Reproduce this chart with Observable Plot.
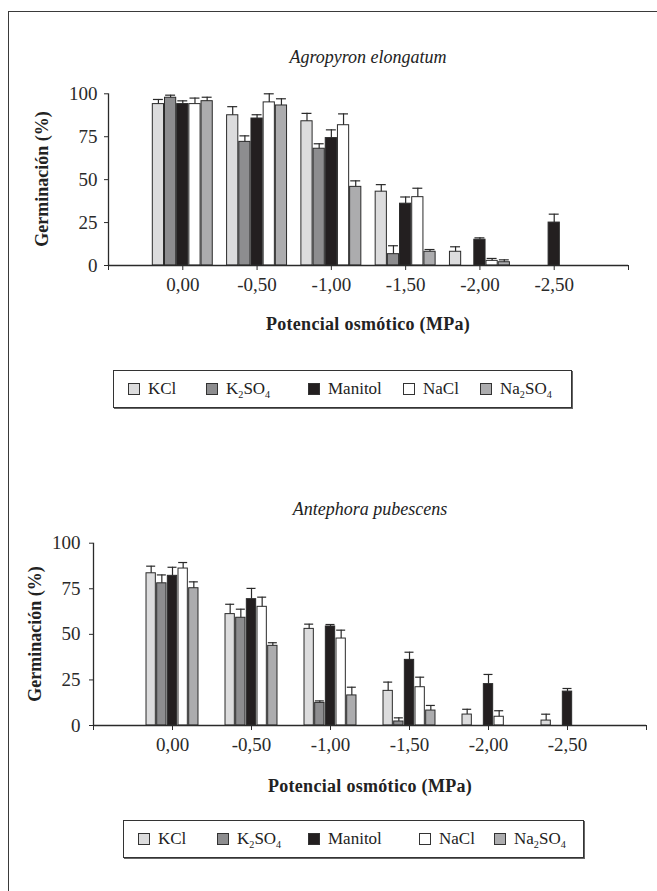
<!DOCTYPE html>
<html><head><meta charset="utf-8">
<script src="https://cdn.jsdelivr.net/npm/d3@7"></script>
<script src="https://cdn.jsdelivr.net/npm/@observablehq/plot@0.6"></script>
<style>
body{margin:0;background:#fff;}
#page{position:relative;width:657px;height:891px;overflow:hidden;background:#fff;font-family:"Liberation Serif",serif;color:#222;}
.frame{position:absolute;left:8px;top:11px;width:700px;height:900px;border-top:1.5px solid #3a3a3a;border-left:1.5px solid #3a3a3a;}
.title{position:absolute;font-style:italic;font-size:18px;transform:translate(-50%,-50%);white-space:nowrap;}
.xlabel{position:absolute;font-weight:bold;font-size:18px;transform:translate(-50%,-50%);white-space:nowrap;letter-spacing:0.3px;}
.ylabel{position:absolute;font-weight:bold;font-size:18px;transform:translate(-50%,-50%) rotate(-90deg);white-space:nowrap;}
.legend{position:absolute;border:1.5px solid #333;box-shadow:1px 1px 0 #666;font-size:17px;height:36px;}
.item{position:absolute;top:0;height:36px;display:flex;align-items:center;white-space:nowrap;}
.sw{width:12px;height:12px;border:1px solid #333;margin-right:8px;box-sizing:border-box;}
.chart{position:absolute;left:0;}
sub{font-size:0.6em;vertical-align:-0.35em;line-height:0;}
</style></head>
<body>
<div id="page">
  <div class="frame"></div>
</div>
<script>
// ---- shared categories ----
const potentials = ["0,00", "-0,50", "-1,00", "-1,50", "-2,00", "-2,50"];
const series = ["KCl", "K2SO4", "Manitol", "NaCl", "Na2SO4"];
const seriesLabels = ["KCl", "K<sub>2</sub>SO<sub>4</sub>", "Manitol", "NaCl", "Na<sub>2</sub>SO<sub>4</sub>"];
const seriesColors = ["#dcdcdd", "#8d8d8f", "#231f20", "#ffffff", "#acacae"];
const yTicks = [0, 25, 50, 75, 100];

// ---- Agropyron elongatum (germination %, per potential) ----
const agroKCl     = [94, 87.5, 84, 43, 8, 0];
const agroK2SO4   = [97.7, 72, 68, 6.6, 0, 0];
const agroManitol = [94, 85.6, 74.2, 36, 15, 25];
const agroNaCl    = [94, 95, 81.7, 39.8, 2.7, 0];
const agroNa2SO4  = [95.7, 93.2, 45.8, 8, 1.9, 0];
const agroKClErr     = [2.7, 5, 4.6, 4.1, 2.9, 0];
const agroK2SO4Err   = [1.5, 3.5, 2.9, 4.9, 0, 0];
const agroManitolErr = [1.9, 2.2, 4.8, 3.9, 1.1, 4.9];
const agroNaClErr    = [3.5, 5, 6.6, 5.2, 1.4, 0];
const agroNa2SO4Err  = [2.3, 3.9, 3.5, 1.3, 1.4, 0];

// ---- Antephora pubescens ----
const anteKCl     = [83.5, 61.1, 53, 19, 6, 2.7];
const anteK2SO4   = [78, 59.1, 12.4, 2.2, 0, 0];
const anteManitol = [82.1, 69.3, 54.3, 36, 22.7, 18.6];
const anteNaCl    = [86.1, 65.1, 47.7, 21, 4.8, 0];
const anteNa2SO4  = [75.3, 43.7, 16.5, 8.2, 0, 0];
const anteKClErr     = [3.9, 5.4, 2.6, 4.8, 2.9, 3.5];
const anteK2SO4Err   = [4.6, 4.7, 1.1, 2, 0, 0];
const anteManitolErr = [4.7, 5.9, 1.1, 4.2, 5.3, 1.7];
const anteNaClErr    = [3.3, 5.3, 4.6, 5.5, 3.3, 0];
const anteNa2SO4Err  = [3.5, 1.7, 4.5, 2.8, 0, 0];

function buildRows(vals, errs) {
  const rows = [];
  vals.forEach((arr, j) => arr.forEach((v, i) => rows.push({i, j, series: series[j], pot: potentials[i], v, e: errs[j][i]})));
  return rows;
}
const agroRows = buildRows([agroKCl, agroK2SO4, agroManitol, agroNaCl, agroNa2SO4],
                           [agroKClErr, agroK2SO4Err, agroManitolErr, agroNaClErr, agroNa2SO4Err]);
const anteRows = buildRows([anteKCl, anteK2SO4, anteManitol, anteNaCl, anteNa2SO4],
                           [anteKClErr, anteK2SO4Err, anteManitolErr, anteNaClErr, anteNa2SO4Err]);

const page = document.getElementById("page");
const ink = "#2a2a2a";

function chart(rows, o) {
  const pos = d => d.i + (d.j - 2) * o.step;
  const drawn = rows.filter(d => d.v > 0);
  const withErr = drawn.filter(d => d.e > 0);
  const p = Plot.plot({
    width: 657, height: o.height,
    marginLeft: o.ml, marginRight: o.mr, marginTop: o.mt, marginBottom: o.mb,
    style: {fontFamily: "Liberation Serif, serif", fontSize: "19px", color: ink, background: "transparent", overflow: "visible"},
    x: {domain: [-1, potentials.length], axis: null},
    y: {domain: [0, 100], axis: null},
    color: {domain: series, range: seriesColors},
    marks: [
      Plot.rectY(drawn, {x1: d => pos(d) - o.bw / 2, x2: d => pos(d) + o.bw / 2, y1: 0, y2: "v", fill: "series", stroke: ink, strokeWidth: 1}),
      Plot.ruleX(withErr, {x: pos, y1: "v", y2: d => d.v + d.e, stroke: ink, strokeWidth: 1.2}),
      Plot.ruleY(withErr, {y: d => d.v + d.e, x1: d => pos(d) - o.cap, x2: d => pos(d) + o.cap, stroke: ink, strokeWidth: 1.2}),
      Plot.ruleY([0], {stroke: ink, strokeWidth: 1.3}),
      Plot.ruleX([-1], {stroke: ink, strokeWidth: 1.3}),
      Plot.axisY({ticks: yTicks, tickSize: 4, tickPadding: o.ytp, label: null, stroke: ink}),
      Plot.axisX({ticks: d3.range(-1, potentials.length + 1), tickFormat: i => potentials[i] ?? "", tickSize: 5, tickPadding: 7, label: null, stroke: ink})
    ]
  });
  p.classList.add("chart");
  p.style.top = o.top + "px";
  page.appendChild(p);
}

function addText(cls, text, x, y) {
  const d = document.createElement("div");
  d.className = cls; d.textContent = text;
  d.style.left = x + "px"; d.style.top = y + "px";
  page.appendChild(d);
}

function legend(left, top, width, itemX) {
  const box = document.createElement("div");
  box.className = "legend";
  box.style.left = left + "px"; box.style.top = top + "px"; box.style.width = width + "px";
  series.forEach((s, j) => {
    const it = document.createElement("div");
    it.className = "item";
    it.style.left = (itemX[j] - left) + "px";
    it.innerHTML = `<span class="sw" style="background:${seriesColors[j]}"></span><span>${seriesLabels[j]}</span>`;
    box.appendChild(it);
  });
  page.appendChild(box);
}

// Top chart
addText("title", "Agropyron elongatum", 368, 57);
chart(agroRows, {top: 80, height: 255, ml: 108, mr: 29, mt: 13.3, mb: 70, step: 0.164, bw: 0.151, cap: 0.067, ytp: 7});
addText("ylabel", "Germinación (%)", 42, 179);
addText("xlabel", "Potencial osmótico (MPa)", 368, 324);
legend(113, 370, 457, [127, 205, 307, 402, 479]);

// Bottom chart
addText("title", "Antephora pubescens", 370, 509);
chart(anteRows, {top: 530, height: 235, ml: 93, mr: 11, mt: 12.7, mb: 40, step: 0.135, bw: 0.118, cap: 0.057, ytp: 9});
addText("ylabel", "Germinación (%)", 35, 634);
addText("xlabel", "Potencial osmótico (MPa)", 370, 786);
legend(123, 820, 459, [137, 216, 307, 418, 493]);
</script>
</body></html>
